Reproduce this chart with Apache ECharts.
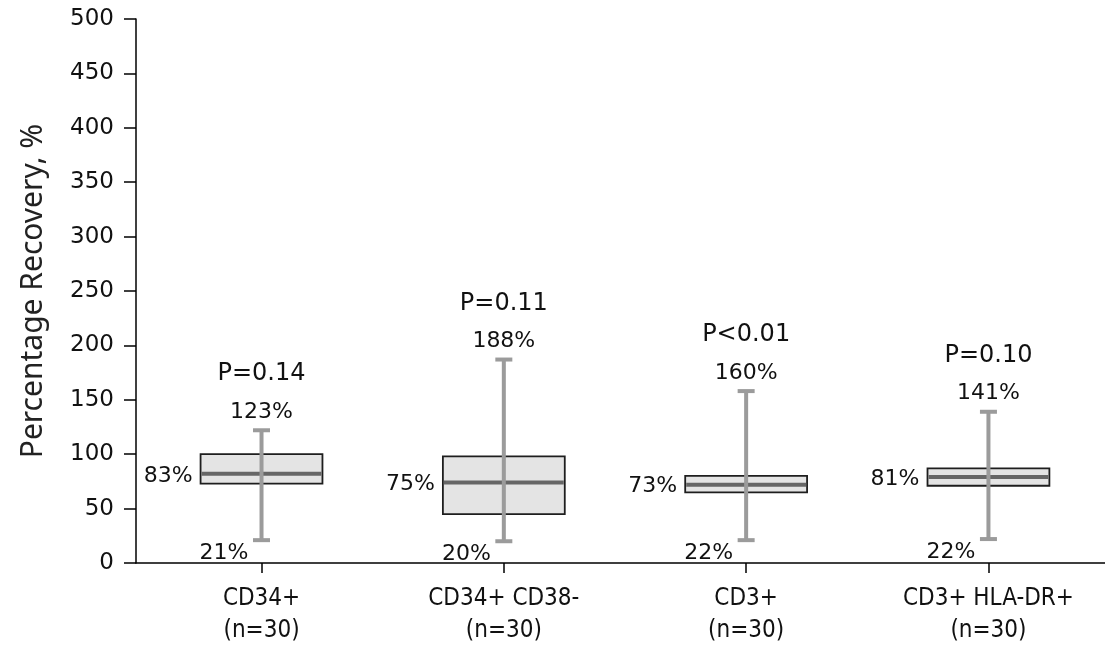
<!DOCTYPE html>
<html>
<head>
<meta charset="utf-8">
<script src="https://cdn.jsdelivr.net/npm/echarts@6/dist/echarts.min.js"></script>
<style>html,body{margin:0;padding:0;background:#fff;}#c{width:1105px;height:647px;}</style>
</head>
<body>
<div id="c"></div>
<script>
const categories = ['CD34+', 'CD34+ CD38-', 'CD3+', 'CD3+ HLA-DR+'];
const nLabels = ['(n=30)', '(n=30)', '(n=30)', '(n=30)'];
const whiskerLow = [21, 20, 21, 22];
const q1 = [73, 45, 65, 71];
const median = [82, 74, 72, 79];
const q3 = [100, 98, 80, 87];
const whiskerHigh = [122, 187, 158, 139];
const medianText = ['83%', '75%', '73%', '81%'];
const highText = ['123%', '188%', '160%', '141%'];
const lowText = ['21%', '20%', '22%', '22%'];
const pText = ['P=0.14', 'P=0.11', 'P<0.01', 'P=0.10'];
const yTicks = [0, 50, 100, 150, 200, 250, 300, 350, 400, 450, 500];

const data = categories.map((c, i) => [i + 1, whiskerLow[i], q1[i], median[i], q3[i], whiskerHigh[i], i]);

const numFont = 'DejaVu Sans, Verdana, sans-serif';

function renderItem(params, api) {
  const x = api.value(0);
  const i = api.value(6);
  const pLo = api.coord([x, api.value(1)]);
  const pQ1 = api.coord([x, api.value(2)]);
  const pMed = api.coord([x, api.value(3)]);
  const pQ3 = api.coord([x, api.value(4)]);
  const pHi = api.coord([x, api.value(5)]);
  const w = api.size([0.503, 0])[0];
  const cx = pMed[0];
  const left = cx - w / 2;
  const capW = 17;
  const gray = '#9b9b9b';
  return {
    type: 'group',
    children: [
      { type: 'rect', shape: { x: left, y: pQ3[1], width: w, height: pQ1[1] - pQ3[1] },
        style: { fill: '#e4e4e4', stroke: '#1e1e1e', lineWidth: 1.8 } },
      { type: 'line', shape: { x1: left + 1, y1: pMed[1], x2: left + w - 1, y2: pMed[1] },
        style: { stroke: '#666666', lineWidth: 4 } },
      { type: 'line', shape: { x1: cx, y1: pHi[1], x2: cx, y2: pLo[1] },
        style: { stroke: gray, lineWidth: 4 } },
      { type: 'line', shape: { x1: cx - capW / 2, y1: pHi[1], x2: cx + capW / 2, y2: pHi[1] },
        style: { stroke: gray, lineWidth: 4 } },
      { type: 'line', shape: { x1: cx - capW / 2, y1: pLo[1], x2: cx + capW / 2, y2: pLo[1] },
        style: { stroke: gray, lineWidth: 4 } },
      { type: 'text', x: cx, y: pHi[1] - 18,
        style: { text: highText[i], font: '22px ' + numFont, fill: '#111', align: 'center', verticalAlign: 'middle' } },
      { type: 'text', x: cx, y: pHi[1] - 56,
        style: { text: pText[i], font: '24px ' + numFont, fill: '#111', align: 'center', verticalAlign: 'middle' } },
      { type: 'text', x: left - 8, y: pMed[1] + 2,
        style: { text: medianText[i], font: '22px ' + numFont, fill: '#111', align: 'right', verticalAlign: 'middle' } },
      { type: 'text', x: left - 1, y: pLo[1] + 13,
        style: { text: lowText[i], font: '22px ' + numFont, fill: '#111', align: 'left', verticalAlign: 'middle' } }
    ]
  };
}

const chart = echarts.init(document.getElementById('c'), null, { renderer: 'canvas' });
chart.setOption({
  backgroundColor: '#ffffff',
  animation: false,
  grid: { left: 136, right: 0, top: 19, bottom: 80, containLabel: false },
  xAxis: {
    type: 'value', min: 0.482, max: 4.481,
    splitLine: { show: false },
    axisLine: { show: true, lineStyle: { color: '#000', width: 1.5 } },
    axisTick: { show: true, customValues: [1, 2, 3, 4], length: 10, inside: false, lineStyle: { color: '#000', width: 1.5 } },
    axisLabel: {
      show: true, customValues: [1, 2, 3, 4], margin: 20,
      formatter: v => categories[Math.round(v) - 1] + '\n' + nLabels[Math.round(v) - 1],
      fontFamily: 'DejaVu Sans Condensed, DejaVu Sans, sans-serif', fontSize: 24, lineHeight: 32, color: '#111'
    }
  },
  yAxis: {
    type: 'value', min: yTicks[0], max: yTicks[yTicks.length - 1], interval: 50,
    name: 'Percentage Recovery, %', nameLocation: 'middle', nameGap: 88,
    nameTextStyle: { fontFamily: 'Noto Sans, Open Sans, sans-serif', fontSize: 30, color: '#222' },
    splitLine: { show: false },
    axisLine: { show: true, lineStyle: { color: '#000', width: 1.5 } },
    axisTick: { show: true, length: 12, lineStyle: { color: '#000', width: 1.5 } },
    axisLabel: { fontFamily: numFont, fontSize: 23, color: '#111', margin: 22 }
  },
  series: [{
    type: 'custom',
    renderItem: renderItem,
    encode: { x: 0, y: [1, 2, 3, 4, 5] },
    data: data,
    clip: false
  }]
});
</script>
</body>
</html>
